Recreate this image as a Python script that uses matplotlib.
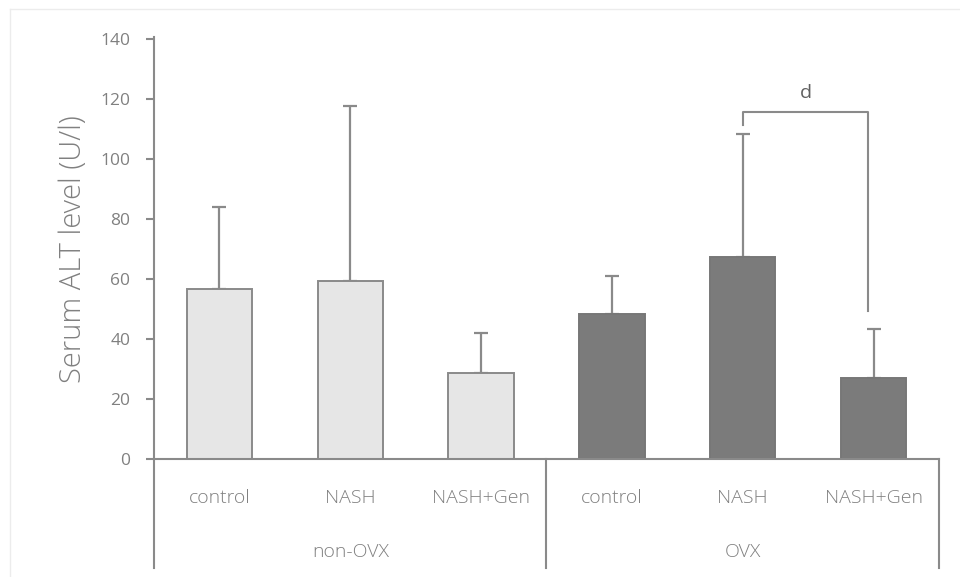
import matplotlib.pyplot as plt
from matplotlib.lines import Line2D

groups = ["non-OVX", "OVX"]
treatments = ["control", "NASH", "NASH+Gen"]

# mean and SD of serum ALT (U/l)
non_ovx_mean = [56.5, 59.3, 28.5]
non_ovx_sd = [27.5, 58.3, 13.4]
ovx_mean = [48.3, 67.2, 26.8]
ovx_sd = [12.6, 41.1, 16.4]

sig_label = "d"
sig_height = 115.5
yticks = [0, 20, 40, 60, 80, 100, 120, 140]

GRAY = "#8a8a8a"
TEXT = "#808080"
plt.rcParams['font.family'] = ['Open Sans', 'DejaVu Sans']

fig = plt.figure(figsize=(9.6, 5.77), dpi=100)
ax = fig.add_axes([154 / 960, 1 - 568 / 577, 785 / 960, (568 - 37) / 577])

n = len(treatments)
x_non = list(range(n))
x_ovx = [n + i for i in range(n)]
w = 0.5

ax.bar(x_non, non_ovx_mean, width=w, color="#e6e6e6", edgecolor=GRAY, linewidth=1.4, zorder=2)
ax.bar(x_ovx, ovx_mean, width=w, color="#7b7b7b", edgecolor="#777777", linewidth=1.4, zorder=2)
ax.errorbar(x_non, non_ovx_mean, yerr=[[0] * n, non_ovx_sd], fmt="none",
            ecolor=GRAY, elinewidth=1.6, capsize=4.8, capthick=1.6, zorder=1)
ax.errorbar(x_ovx, ovx_mean, yerr=[[0] * n, ovx_sd], fmt="none",
            ecolor=GRAY, elinewidth=1.6, capsize=4.8, capthick=1.6, zorder=1)

ymin = -36.3
ax.set_xlim(-0.5, 2 * n - 0.5)
ax.set_ylim(ymin, 140.5)

# baseline and group dividers
ax.plot([-0.5, 2 * n - 0.5], [0, 0], color=GRAY, lw=1.5, zorder=3, clip_on=False)
for xd in [n - 0.5, 2 * n - 0.5]:
    ax.plot([xd, xd], [ymin, 0], color=GRAY, lw=1.5, clip_on=False)

for spine in ["top", "right", "bottom"]:
    ax.spines[spine].set_visible(False)
ax.spines["left"].set_color(GRAY)
ax.spines["left"].set_linewidth(1.5)
ax.spines["left"].set_bounds(ymin, 140.5)

ax.set_xticks([])
ax.set_yticks(yticks)
ax.tick_params(axis="y", length=6, width=1.5, color=GRAY, labelcolor=TEXT,
               labelsize=12.5, pad=11)

label_kw = dict(ha="center", va="center", fontsize=14, color=TEXT, fontweight="light")
for i, t in enumerate(treatments):
    ax.text(x_non[i], -13, t, **label_kw)
    ax.text(x_ovx[i], -13, t, **label_kw)
ax.text((n - 1) / 2, -31, groups[0], **label_kw)
ax.text(n + (n - 1) / 2, -31, groups[1], **label_kw)

ax.text(-1.12, 70, "Serum ALT level (U/l)", rotation=90, ha="center", va="center",
        fontsize=21, color=TEXT, fontweight="light")

# significance bracket between OVX NASH and OVX NASH+Gen
x1, x2 = x_ovx[1], x_ovx[2] - 0.04
ax.plot([x1, x1, x2, x2],
        [ovx_mean[1] + ovx_sd[1] + 3, sig_height, sig_height, ovx_mean[2] + ovx_sd[2] + 6],
        color=GRAY, lw=1.5, solid_joinstyle="round")
ax.text((x1 + x2) / 2, sig_height + 6.5, sig_label, ha="center", va="center",
        fontsize=14, color="#606060")

# faint outer frame
fig.add_artist(Line2D([10 / 960, 1], [1 - 9 / 577, 1 - 9 / 577], color="#ececec", lw=1))
fig.add_artist(Line2D([10 / 960, 10 / 960], [0, 1 - 9 / 577], color="#ececec", lw=1))

fig.savefig("out.png", dpi=100)
